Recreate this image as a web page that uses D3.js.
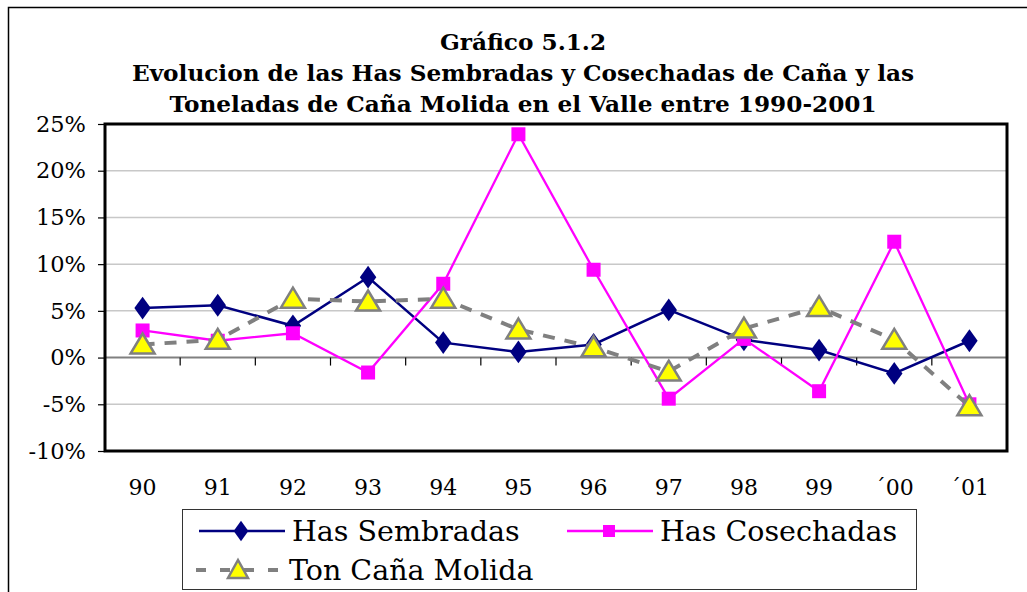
<!DOCTYPE html>
<html>
<head>
<meta charset="utf-8">
<script src="https://cdn.jsdelivr.net/npm/d3@7"></script>
<style>
  body { margin: 0; background: #fff; }
  svg { display: block; }
</style>
</head>
<body>
<div id="chart"></div>
<script>
// Data
const years = ["90", "91", "92", "93", "94", "95", "96", "97", "98", "99", "\u00b400", "\u00b401"];
const hasSembradas = [5.3, 5.6, 3.4, 8.6, 1.6, 0.6, 1.4, 5.1, 1.9, 0.8, -1.7, 1.8];
const hasCosechadas = [2.9, 1.8, 2.6, -1.6, 7.9, 23.9, 9.4, -4.4, 2.0, -3.6, 12.4, -5.0];
const tonCanaMolida = [1.4, 1.9, 6.3, 6.0, 6.3, 3.0, 1.1, -1.5, 3.1, 5.4, 1.9, -5.2];
const yTicks = [-10, -5, 0, 5, 10, 15, 20, 25];
const titleLines = [
  "Gráfico 5.1.2",
  "Evolucion de las Has Sembradas y Cosechadas de Caña y las",
  "Toneladas de Caña Molida en el Valle entre 1990-2001"
];

const width = 1027, height = 592;
const plot = { left: 105, right: 1007, top: 124, bottom: 451 };

const svg = d3.select('#chart').append('svg')
    .attr('width', width)
    .attr('height', height);

// outer chart border (open on right / bottom like the crop)
svg.append('rect')
    .attr('x', 8.5).attr('y', 7.5)
    .attr('width', 1030).attr('height', 600)
    .attr('fill', 'none')
    .attr('stroke', '#000')
    .attr('stroke-width', 1.5);

// title
svg.append('g').selectAll('text')
    .data(titleLines)
    .enter().append('text')
    .attr('x', 523)
    .attr('y', (d, i) => 50 + i * 31)
    .attr('text-anchor', 'middle')
    .attr('font-family', 'DejaVu Serif')
    .attr('font-weight', 'bold')
    .attr('font-size', 23.2)
    .text(d => d);

const x = d3.scaleBand()
    .domain(years)
    .range([plot.left, plot.right]);

const y = d3.scaleLinear()
    .domain([-10, 25])
    .range([plot.bottom, plot.top]);

// gridlines
svg.append('g').selectAll('line')
    .data(yTicks.filter(t => t !== 0 && t !== -10 && t !== 25))
    .enter().append('line')
    .attr('x1', plot.left).attr('x2', plot.right)
    .attr('y1', d => y(d)).attr('y2', d => y(d))
    .attr('stroke', '#c8c8c8')
    .attr('stroke-width', 1.5);

// y axis
const yAxis = svg.append('g')
    .attr('transform', `translate(${plot.left},0)`)
    .call(d3.axisLeft(y).tickValues(yTicks).tickSize(7).tickPadding(12).tickFormat(d => d + '%'));
yAxis.select('.domain').remove();
yAxis.selectAll('line').attr('stroke', '#000').attr('stroke-width', 1.2);
yAxis.selectAll('text')
    .attr('font-family', 'DejaVu Serif')
    .attr('font-size', 22.5)
    .attr('fill', '#000');

// zero line with category ticks
svg.append('line')
    .attr('x1', plot.left).attr('x2', plot.right)
    .attr('y1', y(0)).attr('y2', y(0))
    .attr('stroke', '#808080')
    .attr('stroke-width', 2);
svg.append('g').selectAll('line')
    .data(years.slice(1))
    .enter().append('line')
    .attr('x1', d => x(d)).attr('x2', d => x(d))
    .attr('y1', y(0)).attr('y2', y(0) + 8)
    .attr('stroke', '#000')
    .attr('stroke-width', 1.2);

// category labels
svg.append('g').selectAll('text')
    .data(years)
    .enter().append('text')
    .attr('x', d => x(d) + x.bandwidth() / 2)
    .attr('y', 495)
    .attr('text-anchor', 'middle')
    .attr('font-family', 'DejaVu Serif')
    .attr('font-size', 22)
    .text(d => d);

// plot border
svg.append('rect')
    .attr('x', plot.left).attr('y', plot.top)
    .attr('width', plot.right - plot.left).attr('height', plot.bottom - plot.top)
    .attr('fill', 'none')
    .attr('stroke', '#000')
    .attr('stroke-width', 3);

const cx = i => x(years[i]) + x.bandwidth() / 2;
const line = d3.line().x((d, i) => cx(i)).y(d => y(d));

const tri = 'M0,-11L12,9L-12,9Z';

// Has Sembradas
svg.append('path')
    .attr('d', line(hasSembradas))
    .attr('fill', 'none')
    .attr('stroke', '#000080')
    .attr('stroke-width', 2.5);
svg.append('g').selectAll('path')
    .data(hasSembradas)
    .enter().append('path')
    .attr('d', d3.symbol().type(d3.symbolDiamond).size(150))
    .attr('transform', (d, i) => `translate(${cx(i)},${y(d)}) scale(1.25,1)`)
    .attr('fill', '#000080');

// Has Cosechadas
svg.append('path')
    .attr('d', line(hasCosechadas))
    .attr('fill', 'none')
    .attr('stroke', '#ff00ff')
    .attr('stroke-width', 2.3);
svg.append('g').selectAll('rect')
    .data(hasCosechadas)
    .enter().append('rect')
    .attr('x', (d, i) => cx(i) - 7)
    .attr('y', d => y(d) - 7)
    .attr('width', 14).attr('height', 14)
    .attr('fill', '#ff00ff');

// Ton Caña Molida
svg.append('path')
    .attr('d', line(tonCanaMolida))
    .attr('fill', 'none')
    .attr('stroke', '#808080')
    .attr('stroke-width', 4)
    .attr('stroke-dasharray', '12,10');
svg.append('g').selectAll('path')
    .data(tonCanaMolida)
    .enter().append('path')
    .attr('d', tri)
    .attr('transform', (d, i) => `translate(${cx(i)},${y(d)})`)
    .attr('fill', '#ffff00')
    .attr('stroke', '#808080')
    .attr('stroke-width', 2.5)
    .attr('stroke-linejoin', 'miter');

// legend
const legend = svg.append('g');
legend.append('rect')
    .attr('x', 182.5).attr('y', 509.5)
    .attr('width', 734).attr('height', 80)
    .attr('fill', '#fff')
    .attr('stroke', '#333')
    .attr('stroke-width', 1);

const legendItems = [
  { name: 'Has Sembradas', x: 199, y: 531, color: '#000080', w: 2.5, kind: 'diamond' },
  { name: 'Has Cosechadas', x: 567, y: 531, color: '#ff00ff', w: 2.3, kind: 'square' },
  { name: 'Ton Caña Molida', x: 196, y: 570, color: '#808080', w: 4, kind: 'tri' }
];
legendItems.forEach(it => {
  const g = legend.append('g');
  g.append('line')
      .attr('x1', it.x).attr('x2', it.x + 86)
      .attr('y1', it.y).attr('y2', it.y)
      .attr('stroke', it.color)
      .attr('stroke-width', it.w)
      .attr('stroke-dasharray', it.kind === 'tri' ? '10,14' : null);
  const mx = it.x + 42;
  if (it.kind === 'diamond') {
    g.append('path')
        .attr('d', d3.symbol().type(d3.symbolDiamond).size(120))
        .attr('transform', `translate(${mx},${it.y}) scale(1.25,1)`)
        .attr('fill', it.color);
  } else if (it.kind === 'square') {
    g.append('rect')
        .attr('x', mx - 6).attr('y', it.y - 6)
        .attr('width', 12).attr('height', 12)
        .attr('fill', it.color);
  } else {
    g.append('path')
        .attr('d', 'M0,-10L10,8L-10,8Z')
        .attr('transform', `translate(${mx},${it.y})`)
        .attr('fill', '#ffff00')
        .attr('stroke', '#808080')
        .attr('stroke-width', 2.5);
  }
  g.append('text')
      .attr('x', it.x + 93)
      .attr('y', it.y + 10)
      .attr('font-family', 'DejaVu Serif')
      .attr('font-size', 28.5)
      .text(it.name);
});
</script>
</body>
</html>
